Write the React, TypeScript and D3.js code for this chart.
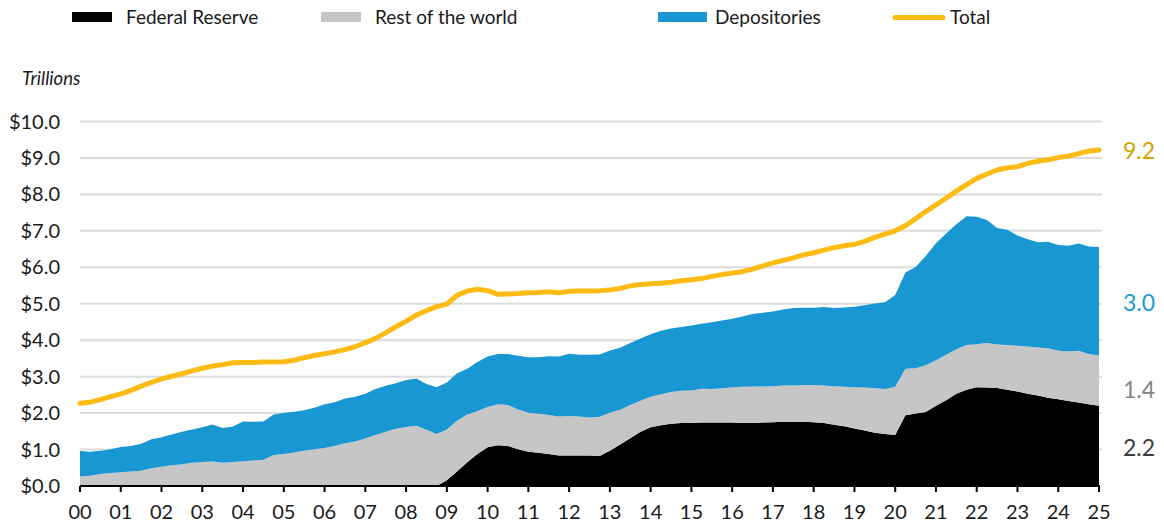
import React from 'react';
import * as d3 from 'd3';

// quarterly, 2000Q1 .. 2025Q1 (trillions of dollars)
const startYear = 2000;
const yearTicks = d3.range(0, 26).map(d => String(d).padStart(2, '0'));
const yTicks = [0, 1, 2, 3, 4, 5, 6, 7, 8, 9, 10];

const fedReserve = [
  0, 0, 0, 0, 0, 0, 0, 0, 0, 0, 0, 0, 0, 0, 0, 0, 0, 0, 0, 0,
  0, 0, 0, 0, 0, 0, 0, 0, 0, 0, 0, 0, 0, 0, 0, 0,
  0.16, 0.40, 0.65, 0.88,
  1.06, 1.12, 1.10, 1.01,
  0.94, 0.91, 0.88, 0.84,
  0.84, 0.84, 0.84, 0.82,
  0.97, 1.14, 1.31, 1.49,
  1.61, 1.67, 1.71, 1.73,
  1.73, 1.74, 1.74, 1.74,
  1.74, 1.73, 1.73, 1.74,
  1.75, 1.76, 1.76, 1.76,
  1.75, 1.73, 1.68, 1.64,
  1.58, 1.52, 1.46, 1.43,
  1.40, 1.94, 1.99, 2.03,
  2.20, 2.35, 2.53, 2.64,
  2.71, 2.70, 2.69, 2.64,
  2.59, 2.53, 2.48, 2.42,
  2.38, 2.33, 2.29, 2.24,
  2.20,
];

const restOfWorld = [
  0.26, 0.28, 0.33, 0.36,
  0.38, 0.40, 0.42, 0.49,
  0.53, 0.57, 0.60, 0.64,
  0.66, 0.67, 0.64, 0.66,
  0.68, 0.70, 0.72, 0.85,
  0.88, 0.92, 0.97, 1.01,
  1.04, 1.10, 1.17, 1.22,
  1.30, 1.40, 1.49, 1.57,
  1.62, 1.65, 1.54, 1.43,
  1.39, 1.39, 1.31, 1.17,
  1.11, 1.12, 1.12, 1.09,
  1.07, 1.07, 1.07, 1.07,
  1.08, 1.07, 1.04, 1.08,
  1.04, 0.95, 0.91, 0.85,
  0.84, 0.85, 0.87, 0.88,
  0.89, 0.93, 0.92, 0.94,
  0.96, 0.99, 1.00, 0.99,
  0.99, 1.00, 1.00, 1.01,
  1.02, 1.03, 1.06, 1.08,
  1.13, 1.18, 1.22, 1.23,
  1.32, 1.28, 1.24, 1.28,
  1.25, 1.25, 1.22, 1.23,
  1.18, 1.22, 1.19, 1.23,
  1.26, 1.30, 1.32, 1.36,
  1.33, 1.36, 1.42, 1.38,
  1.38,
];

const depositories = [
  0.70, 0.66, 0.64, 0.65,
  0.69, 0.70, 0.74, 0.79,
  0.81, 0.84, 0.89, 0.91,
  0.95, 1.02, 0.95, 0.97,
  1.09, 1.06, 1.05, 1.11,
  1.12, 1.12, 1.11, 1.14,
  1.20, 1.20, 1.23, 1.23,
  1.23, 1.26, 1.26, 1.25,
  1.29, 1.30, 1.26, 1.28,
  1.29, 1.30, 1.26, 1.35,
  1.38, 1.38, 1.40, 1.47,
  1.52, 1.55, 1.61, 1.64,
  1.71, 1.69, 1.72, 1.71,
  1.71, 1.70, 1.70, 1.71,
  1.71, 1.74, 1.74, 1.75,
  1.78, 1.78, 1.83, 1.86,
  1.89, 1.93, 1.99, 2.02,
  2.05, 2.08, 2.12, 2.12,
  2.12, 2.15, 2.14, 2.18,
  2.21, 2.26, 2.33, 2.38,
  2.52, 2.64, 2.78, 3.00,
  3.21, 3.33, 3.43, 3.53,
  3.50, 3.38, 3.20, 3.16,
  3.02, 2.94, 2.89, 2.92,
  2.90, 2.90, 2.94, 2.95,
  2.98,
];

const total = [
  2.27, 2.30, 2.37, 2.45,
  2.53, 2.62, 2.74, 2.84,
  2.94, 3.01, 3.08, 3.16,
  3.23, 3.29, 3.33, 3.38,
  3.39, 3.39, 3.40, 3.40,
  3.41, 3.45, 3.52, 3.58,
  3.63, 3.68, 3.74, 3.82,
  3.93, 4.05, 4.20, 4.37,
  4.52, 4.69, 4.81, 4.92,
  4.99, 5.23, 5.35, 5.40,
  5.36, 5.26, 5.27, 5.28,
  5.30, 5.31, 5.33, 5.30,
  5.34, 5.35, 5.35, 5.36,
  5.38, 5.42, 5.49, 5.53,
  5.55, 5.56, 5.59, 5.63,
  5.66, 5.69, 5.75, 5.80,
  5.84, 5.88, 5.95, 6.04,
  6.12, 6.19, 6.26, 6.34,
  6.40, 6.47, 6.54, 6.59,
  6.63, 6.71, 6.82, 6.91,
  7.00, 7.14, 7.33, 7.53,
  7.71, 7.90, 8.09, 8.27,
  8.44, 8.56, 8.67, 8.73,
  8.76, 8.85, 8.91, 8.95,
  9.01, 9.05, 9.12, 9.19,
  9.22,
];

const seriesKeys = ['fed', 'row', 'dep'];
const seriesNames = ['Federal Reserve', 'Rest of the world', 'Depositories'];
const seriesColors = ['#000000', '#c6c6c6', '#1897d3'];
const totalColor = '#fdbb13';
const endLabelColors = ['#3c3c3c', '#858585', '#1a9ad6'];

const W = 1164;
const H = 527;
const margin = { top: 121.5, right: 65, bottom: 41, left: 80 };
const font = 'Lato, "Open Sans", sans-serif';

export default function App() {
  const rows = total.map((t, i) => ({
    t: startYear + i / 4,
    fed: fedReserve[i],
    row: restOfWorld[i],
    dep: depositories[i],
    total: t,
  }));

  const x = d3.scaleLinear().domain([2000, 2025]).range([margin.left, W - margin.right]);
  const y = d3.scaleLinear().domain([0, 10]).range([H - margin.bottom, margin.top]);

  const stacked = d3.stack().keys(seriesKeys)(rows as any);
  const area = d3
    .area<any>()
    .x(d => x(d.data.t))
    .y0(d => y(d[0]))
    .y1(d => y(d[1]));
  const line = d3
    .line<any>()
    .x(d => x(d.t))
    .y(d => y(d.total));

  const last = rows[rows.length - 1];
  const lastStack = stacked.map(s => s[s.length - 1]);
  const labelX = x(2025) + 24;

  const legend = [
    { name: seriesNames[0], color: seriesColors[0], x: 72, type: 'rect' },
    { name: seriesNames[1], color: seriesColors[1], x: 321, type: 'rect' },
    { name: seriesNames[2], color: seriesColors[2], x: 658, type: 'rect' },
    { name: 'Total', color: totalColor, x: 893, type: 'line' },
  ];

  return (
    <svg
      width={W}
      height={H}
      style={{ position: 'absolute', left: 0, top: 0, background: '#fff' }}
      fontFamily={font}
    >
      {/* legend */}
      {legend.map(l => (
        <g key={l.name}>
          {l.type === 'rect' ? (
            <rect x={l.x} y={12} width={l.x === 658 ? 49 : 40} height={10} fill={l.color} />
          ) : (
            <line x1={l.x + 2} x2={l.x + 50} y1={17.5} y2={17.5} stroke={l.color} strokeWidth={5} strokeLinecap="round" />
          )}
          <text
            x={l.type === 'rect' ? l.x + (l.x === 658 ? 57 : 54) : l.x + 57}
            y={17}
            dy="0.35em"
            fontSize={19}
            fill="#1a1a1a"
          >
            {l.name}
          </text>
        </g>
      ))}

      <text x={22} y={79} dy="0.35em" fontSize={18.5} fontStyle="italic" fill="#1a1a1a">
        Trillions
      </text>

      {/* grid + y labels */}
      {yTicks.map(v => (
        <g key={v}>
          {v > 0 && (
            <line x1={margin.left} x2={W - margin.right + 3} y1={y(v)} y2={y(v)} stroke="#dcdcdc" strokeWidth={2} />
          )}
          <text x={60} y={y(v)} dy="0.35em" textAnchor="end" fontSize={20} fill="#1a1a1a">
            {'$' + v.toFixed(1)}
          </text>
        </g>
      ))}

      {/* stacked areas */}
      {stacked.map((s, i) => (
        <path key={s.key} d={area(s) || ''} fill={seriesColors[i]} />
      ))}

      {/* total line */}
      <path d={line(rows) || ''} fill="none" stroke={totalColor} strokeWidth={5} strokeLinecap="round" strokeLinejoin="round" />

      {/* x axis */}
      <line x1={margin.left} x2={x(2025) + 1} y1={y(0)} y2={y(0)} stroke="#000" strokeWidth={2} />
      {yearTicks.map((lab, i) => (
        <g key={lab}>
          <line x1={x(2000 + i)} x2={x(2000 + i)} y1={y(0)} y2={y(0) + 6} stroke="#000" strokeWidth={2} />
          <text x={x(2000 + i)} y={y(0) + 26} dy="0.35em" textAnchor="middle" fontSize={20} fill="#1a1a1a">
            {lab}
          </text>
        </g>
      ))}

      {/* end labels */}
      <text x={labelX} y={y(last.total) + 1} dy="0.35em" fontSize={23} fill="#d9a100">
        {last.total.toFixed(1)}
      </text>
      {lastStack.map((d, i) => {
        const v = d[1] - d[0];
        const cy = i === 1 ? y((d[0] + d[1]) / 2) + 9 : y((d[0] + d[1]) / 2) + 2;
        return (
          <text key={i} x={labelX} y={cy} dy="0.35em" fontSize={23} fill={endLabelColors[i]}>
            {(Math.round(v * 10) / 10).toFixed(1)}
          </text>
        );
      })}
    </svg>
  );
}
